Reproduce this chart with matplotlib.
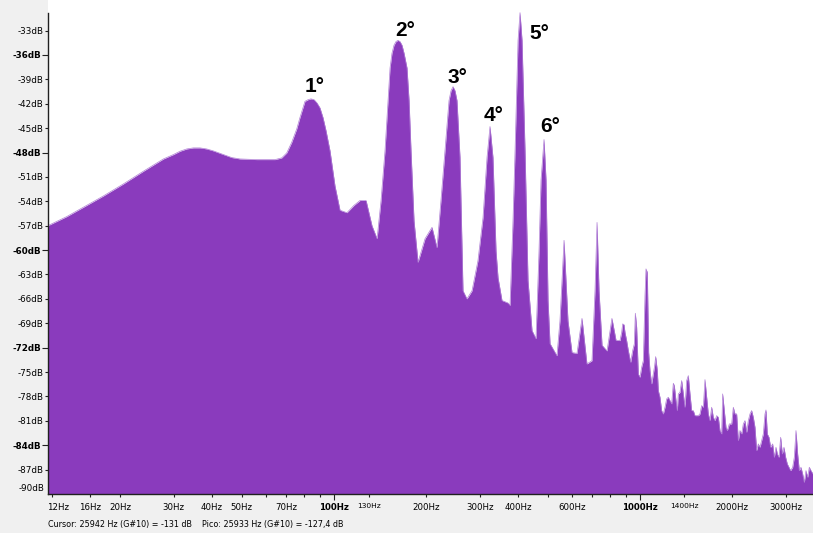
import matplotlib
matplotlib.use("Agg")
import matplotlib.pyplot as plt
from matplotlib.ticker import NullFormatter
from matplotlib.transforms import ScaledTranslation

# Spectrum outline (frequency in Hz, level in dB)
freq_hz = [
    # low-frequency slope and hump
    11.64, 13.40, 15.19, 17.66, 20.53, 23.86, 27.74, 29.91, 31.44, 33.06,
    34.76, 36.55, 38.43, 40.41, 43.56, 46.39, 49.39, 55.99, 64.27, 67.57,
    70.17, 72.86, 75.65, 77.57,
    # 1st to 6th harmonic
    80.5, 82.4, 84.2, 86.2, 88.1, 90.1, 92.2, 94.3, 97.2, 100.9,
    104.8, 110.4, 116.4, 121.8, 127.5, 133.3, 138.5, 142.7, 147.0, 150.4,
    152.7, 154.9, 157.3, 159.7, 162.1, 164.6, 167.1, 169.7, 173.5, 176.2,
    178.8, 182.9, 188.5, 198.7, 209.4, 217.4, 224.0, 230.9, 238.0, 241.6,
    245.3, 249.0, 252.7, 258.5, 264.4, 272.4, 283.0, 295.9, 307.4, 316.8,
    324.0, 331.3, 339.0, 344.2, 354.6, 370.8, 376.7, 385.2, 391.2, 400.1,
    406.1, 412.3, 421.7, 431.3, 444.5, 458.0, 468.5, 475.6, 486.5, 493.9,
    501.4, 509.0, 536.2, 548.5, 565.6, 582.6, 600.6, 623.4, 647.4, 672.0,
    698.0, 714.0, 725.0, 736.0, 752.8, 781.6, 811.0, 836.5,
    # upper partials and noise floor
    861.7, 872.6, 879.2, 888.0, 894.7, 906.0, 917.5, 933.7, 947.9, 959.8,
    967.1, 976.8, 989.2, 1001.6, 1014.3, 1027.1, 1040.1, 1047.9, 1058.5, 1069.1,
    1079.9, 1093.6, 1107.4, 1118.5, 1127.0, 1141.2, 1149.8, 1164.3, 1179.0, 1193.9,
    1209.0, 1224.2, 1239.7, 1255.3, 1271.2, 1287.2, 1296.9, 1313.3, 1326.5, 1336.6,
    1353.4, 1370.5, 1387.8, 1405.3, 1423.1, 1441.0, 1459.2, 1477.6, 1496.3, 1515.2,
    1553.6, 1573.2, 1593.1, 1613.2, 1633.6, 1654.2, 1675.0, 1696.2, 1717.6, 1739.3,
    1761.2, 1783.5, 1806.0, 1828.8, 1851.8, 1865.9, 1884.7, 1913.2, 1932.5, 1961.8,
    1996.6, 2021.8, 2047.3, 2073.2, 2099.3, 2125.8, 2152.6, 2179.8, 2207.3, 2235.2,
    2263.4, 2291.9, 2320.9, 2350.2, 2379.8, 2409.9, 2440.3, 2471.1, 2502.2, 2533.8,
    2565.8, 2585.2, 2611.3, 2644.2, 2677.6, 2718.2, 2752.5, 2787.2, 2815.3, 2850.9,
    2886.9, 2923.3, 2960.2, 2997.6, 3035.4, 3073.7, 3112.5, 3159.7, 3199.6, 3239.9,
    3280.8, 3322.2, 3364.2, 3406.6, 3449.6, 3493.1, 3537.2, 3581.9, 3627.1, 3682.1,
]
level_db = [
    -56.99, -55.88, -54.73, -53.34, -51.86, -50.30, -48.79, -48.25, -47.84, -47.56,
    -47.43, -47.43, -47.56, -47.80, -48.25, -48.62, -48.79, -48.87, -48.87, -48.66,
    -48.05, -46.74, -45.10, -43.66,
    -41.7, -41.5, -41.4, -41.5, -41.9, -42.5, -43.7, -45.3, -47.8, -52.1,
    -55.1, -55.4, -54.5, -53.9, -53.9, -57.0, -58.6, -53.9, -47.8, -41.6,
    -37.6, -35.8, -34.8, -34.35, -34.2, -34.35, -34.8, -35.8, -37.6, -41.6,
    -47.8, -56.4, -61.5, -58.6, -57.2, -59.7, -53.9, -47.8, -41.6, -40.4,
    -39.9, -40.4, -41.6, -48.6, -65.0, -66.0, -65.0, -61.3, -56.0, -48.6,
    -44.8, -48.6, -60.1, -63.4, -66.2, -66.5, -66.8, -56.4, -47.8, -34.2,
    -30.8, -34.2, -47.8, -63.75, -69.9, -70.9, -60.1, -51.4, -46.4, -51.4,
    -66.2, -71.5, -73.0, -68.7, -58.8, -68.7, -72.6, -72.7, -68.4, -74.0,
    -73.6, -65.0, -56.6, -65.0, -71.7, -72.4, -68.4, -71.1,
    -71.13, -70.11, -69.08, -69.16, -70.11, -71.13, -72.36, -73.80, -72.36, -71.54,
    -67.77, -69.49, -75.23, -75.64, -74.41, -73.59, -65.60, -62.31, -62.73, -72.56,
    -74.82, -76.46, -75.23, -74.21, -73.10, -74.82, -77.28, -78.10, -79.74, -80.15,
    -79.33, -78.31, -78.10, -78.51, -78.92, -76.38, -76.67, -78.51, -79.74, -77.69,
    -77.49, -76.05, -77.69, -79.33, -76.05, -75.44, -77.69, -79.74, -79.74, -80.36,
    -80.36, -80.15, -79.13, -79.33, -75.93, -78.10, -80.15, -80.97, -79.33, -80.56,
    -80.97, -80.36, -80.56, -82.20, -82.61, -77.69, -79.33, -81.79, -82.20, -81.38,
    -81.38, -79.33, -80.15, -80.15, -83.43, -82.20, -82.61, -81.38, -80.97, -82.41,
    -80.97, -80.15, -79.74, -80.56, -81.79, -84.66, -83.84, -84.25, -83.43, -82.61,
    -80.15, -79.66, -82.61, -83.02, -84.25, -83.84, -85.48, -84.25, -85.07, -85.48,
    -83.02, -85.07, -84.25, -85.48, -86.30, -86.71, -87.12, -86.71, -85.48, -82.20,
    -85.07, -87.12, -86.71, -87.53, -88.56, -87.12, -87.94, -86.71, -87.12, -87.53,
]

# Harmonic labels: text, frequency, baseline level
harmonic_labels = ["1°", "2°", "3°", "4°", "5°", "6°"]
harmonic_freq = [86.8, 170.9, 252.7, 334.0, 468.5, 509.0]
harmonic_db = [-40.6, -33.7, -39.4, -44.1, -34.0, -45.5]

# Axis ticks
y_major = [-36, -48, -60, -72, -84]
y_minor = [-33, -39, -42, -45, -51, -54, -57, -63, -66, -69, -75, -78, -81, -87]
x_major = [100, 1000]
x_minor_labelled = [12, 16, 20, 30, 40, 50, 70, 130, 200, 300, 400, 600, 1400, 2000, 3000]
x_minor_plain = [60, 80, 90, 500, 700, 800, 900]
status_text = "Cursor: 25942 Hz (G#10) = -131 dB    Pico: 25933 Hz (G#10) = -127,4 dB"

PURPLE = "#8a3bbd"
BG = "#f0f0f0"

W, H = 813, 533
fig = plt.figure(figsize=(W / 100, H / 100), dpi=100, facecolor=BG)
ax = fig.add_axes([48 / W, 39 / H, 765 / W, 494 / H])
ax.set_facecolor("white")

ax.fill_between(freq_hz, level_db, -90, color=PURPLE, linewidth=0)
ax.plot(freq_hz, level_db, color="#b07fd6", linewidth=0.5)

ax.set_xscale("log")
ax.set_xlim(11.64, 3683)
ax.set_ylim(-90, -29.24)

for s in ("top", "right"):
    ax.spines[s].set_visible(False)
for s in ("left", "bottom"):
    ax.spines[s].set_color("#202020")
    ax.spines[s].set_linewidth(1.0)
    ax.spines[s].set_zorder(5)
ax.spines["left"].set_bounds(-90, -30.8)

# y axis
ax.set_yticks(y_major)
ax.set_yticklabels([f"{v}dB" for v in y_major], fontweight="bold")
ax.set_yticks(y_minor, minor=True)
ax.set_yticklabels([f"{v}dB" for v in y_minor], minor=True)
ax.tick_params(axis="y", which="major", length=4, width=0.8, pad=1, labelsize=6.3, color="#202020")
ax.tick_params(axis="y", which="minor", length=2.2, width=0.8, pad=1, labelsize=6.3, color="#202020")
ax.text(-0.004, -89.35, "-90dB", transform=ax.get_yaxis_transform(),
        ha="right", va="center", fontsize=6.3)

# x axis
ax.xaxis.set_major_formatter(NullFormatter())
ax.xaxis.set_minor_formatter(NullFormatter())
ax.set_xticks(x_major)
ax.set_xticklabels([f"{v}Hz" for v in x_major], fontweight="bold")
minor_pos = x_minor_labelled + x_minor_plain
minor_lab = [f"{v}Hz" for v in x_minor_labelled] + [""] * len(x_minor_plain)
ax.set_xticks(minor_pos, minor=True)
ax.set_xticklabels(minor_lab, minor=True)
ax.tick_params(axis="x", which="major", length=4, width=0.8, pad=2.5, labelsize=6.2, color="#202020")
ax.tick_params(axis="x", which="minor", length=2.2, width=0.8, pad=4, labelsize=6.2, color="#202020")
for lab in ax.get_xticklabels(minor=True):
    if lab.get_text() in ("130Hz", "1400Hz"):
        lab.set_fontsize(5.4)
    if lab.get_text() == "12Hz":
        lab.set_transform(lab.get_transform() + ScaledTranslation(6 / 100, 0, fig.dpi_scale_trans))

for txt, f, db in zip(harmonic_labels, harmonic_freq, harmonic_db):
    ax.text(f, db, txt, ha="center", va="baseline", fontsize=15,
            fontweight="bold", family="Liberation Sans", color="black")

fig.text(48 / W, 1 - 524 / H, status_text, ha="left", va="center", fontsize=5.8)

fig.savefig("out.png", dpi=100, facecolor=BG)
